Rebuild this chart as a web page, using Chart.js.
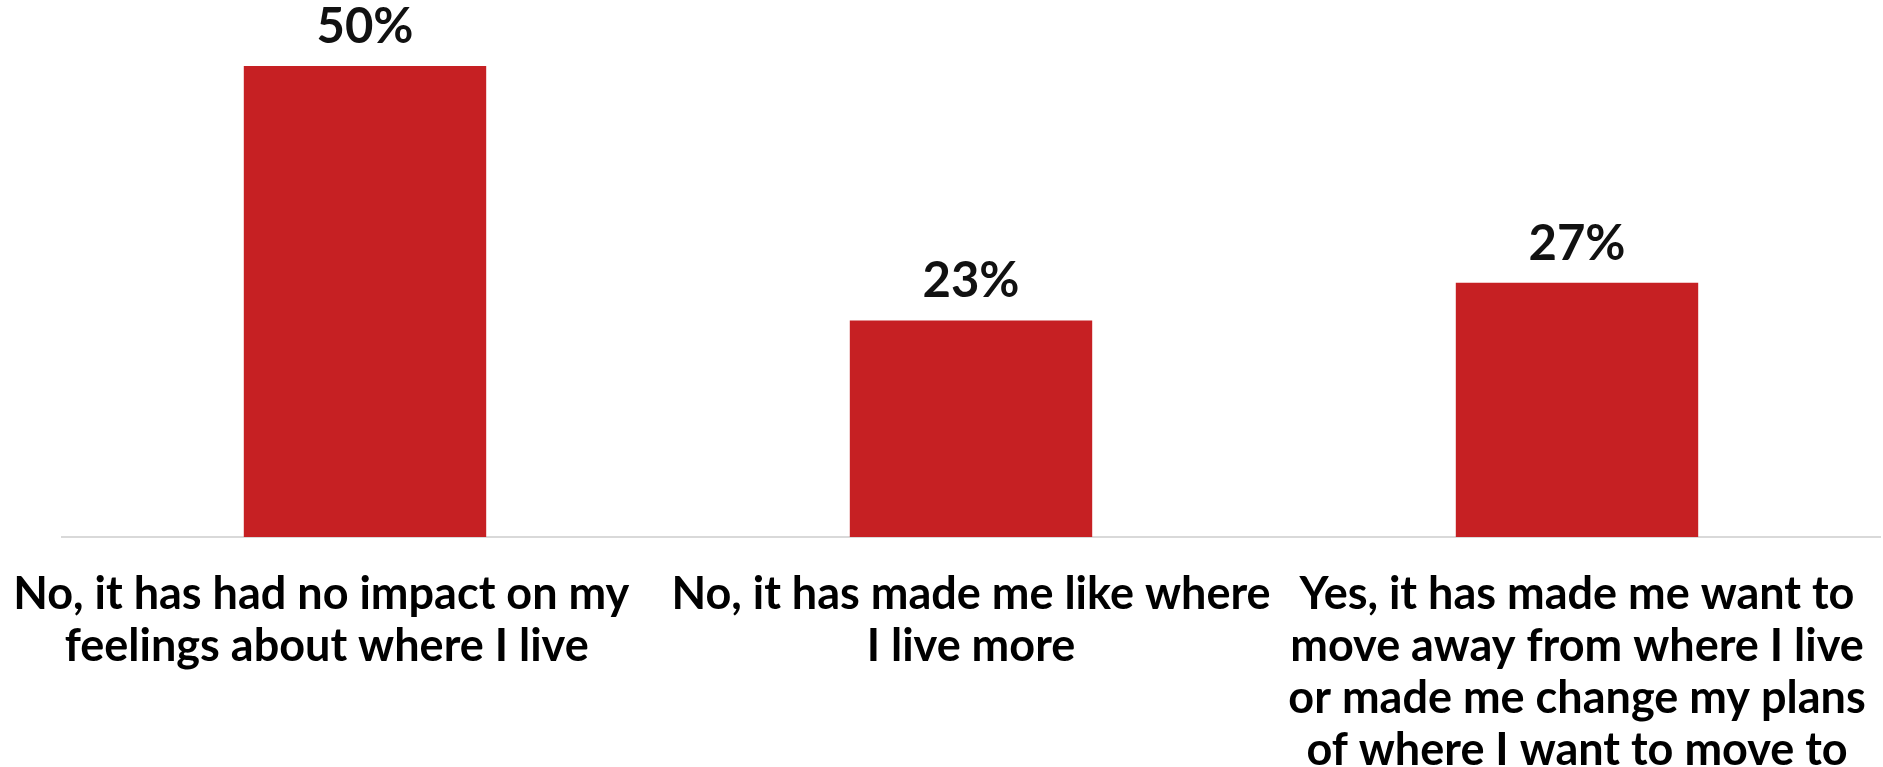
<!DOCTYPE html>
<html>
<head>
<meta charset="utf-8">
<title>Impact on feelings about where I live</title>
<script src="https://cdn.jsdelivr.net/npm/chart.js@4"></script>
<style>
  html, body { margin: 0; padding: 0; background: #fff; }
  #wrap { position: relative; width: 1883px; height: 767px; }
</style>
</head>
<body>
<div id="wrap"><canvas id="impactChart"></canvas></div>
<script>
// Survey answers, one bar each (trailing spaces nudge the first label left)
const categories = [
  ['No, it has had no impact on my        ', 'feelings about where I live       '],
  ['No, it has made me like where', 'I live more'],
  ['Yes, it has made me want to', 'move away from where I live', 'or made me change my plans', 'of where I want to move to']
];
const shares = [50, 23, 27];
const valueLabels = ['50%', '23%', '27%'];

const FONT = 'Lato, "Liberation Sans", sans-serif';

// Draws the percentage above each bar
const barValues = {
  id: 'barValues',
  afterDatasetsDraw(chart) {
    const ctx = chart.ctx;
    const meta = chart.getDatasetMeta(0);
    ctx.save();
    ctx.font = 'bold 49px ' + FONT;
    ctx.fillStyle = '#111';
    ctx.textAlign = 'center';
    ctx.textBaseline = 'middle';
    meta.data.forEach(function(bar, i) {
      ctx.fillText(valueLabels[i], bar.x, bar.y - 39);
    });
    ctx.restore();
  }
};

new Chart(document.getElementById('impactChart'), {
  type: 'bar',
  data: {
    labels: categories,
    datasets: [{
      data: shares,
      backgroundColor: '#c62023',
      borderWidth: 0,
      barPercentage: 0.8,
      categoryPercentage: 0.5
    }]
  },
  options: {
    responsive: true,
    maintainAspectRatio: false,
    animation: false,
    layout: { padding: { left: 62, right: 3, top: 66, bottom: -40 } },
    plugins: {
      legend: { display: false },
      tooltip: { enabled: false }
    },
    scales: {
      y: { display: false, min: 0, max: 50 },
      x: {
        grid: { display: false, drawTicks: false },
        border: { display: true, color: '#d9d9d9', width: 2 },
        // long labels may hang past the plot edges; keep the plot width fixed
        afterFit: function(scale) {
          scale.paddingLeft = 0;
          scale.paddingRight = 0;
        },
        ticks: {
          color: '#000',
          maxRotation: 0,
          autoSkip: false,
          padding: 31,
          font: { family: FONT, weight: 'bold', size: 45, lineHeight: 1.155 }
        }
      }
    }
  },
  plugins: [barValues]
});
</script>
</body>
</html>
